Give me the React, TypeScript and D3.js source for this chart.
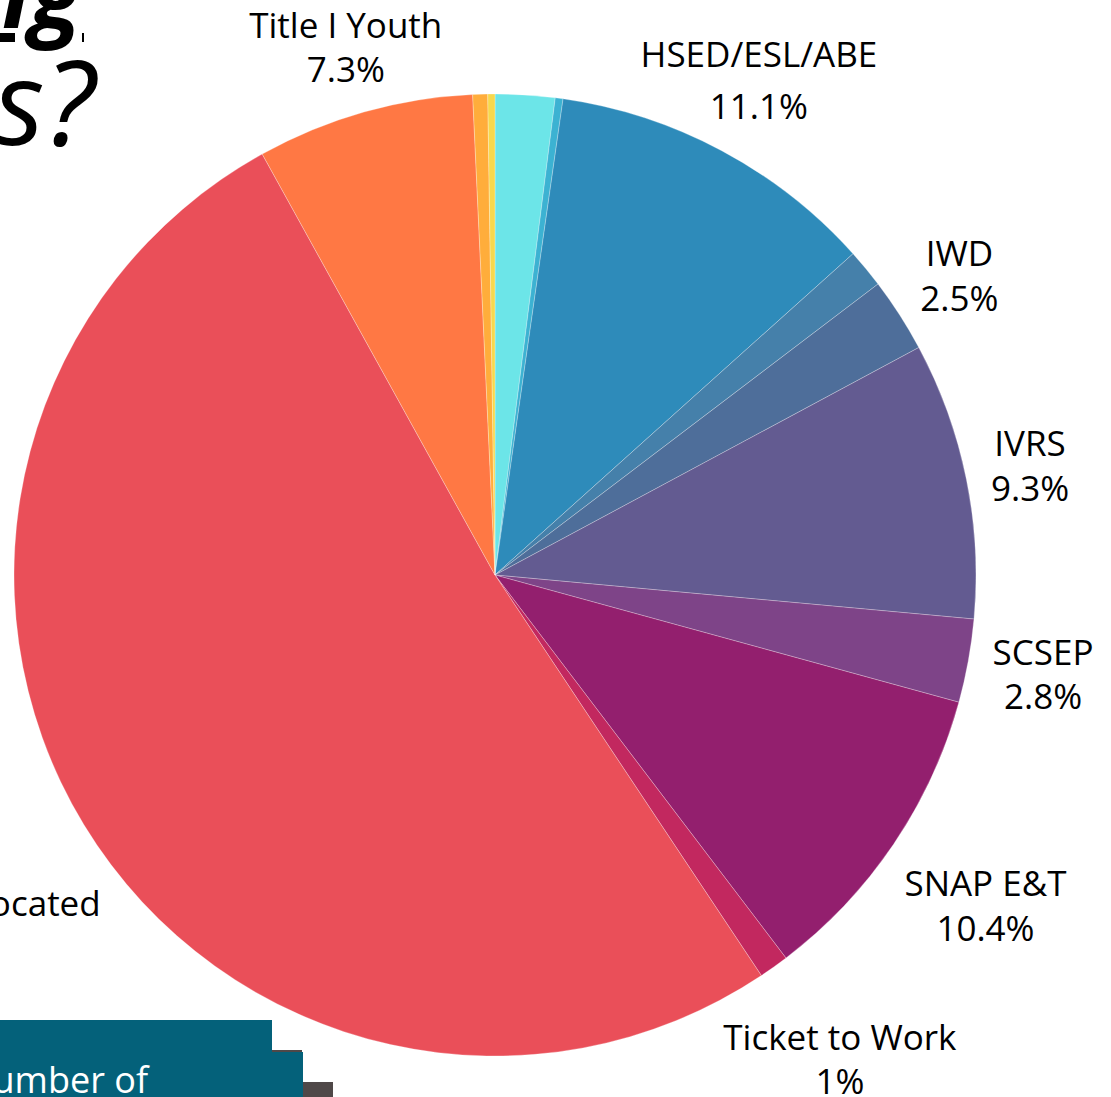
import React from "react";
import * as d3 from "d3";

const programs = [
  "Jobs for Veterans",
  "Trade Adjustment",
  "HSED/ESL/ABE",
  "RESEA",
  "IWD",
  "IVRS",
  "SCSEP",
  "SNAP E&T",
  "Ticket to Work",
  "Title I Adult/Dislocated",
  "Title I Youth",
  "Apprenticeship",
  "Job Corps",
];
const shares = [2.0, 0.26, 11.1, 1.3, 2.5, 9.3, 2.8, 10.4, 1.0, 51.3, 7.3, 0.5, 0.24];
const shareLabels = ["", "", "11.1%", "", "2.5%", "9.3%", "2.8%", "10.4%", "1%", "51.3%", "7.3%", "", ""];
const showLabel = [false, false, true, false, true, true, true, true, true, true, true, false, false];
const colors = [
  "#6ce5e8", "#3cb2d2", "#2e8bba", "#4580aa", "#4e6e9a", "#635b91", "#7e4488",
  "#931f6e", "#c2285f", "#ea4f59", "#ff7844", "#ffad3b", "#f6d84e",
];
// layout: distance of each label block centre from pie centre, and line spacing
const labelDistance = [0, 0, 560, 0, 552, 546, 557, 592, 595, 676, 548, 0, 0];
const labelLineGap = [45, 45, 52, 45, 45, 45, 44, 45, 44, 45, 44, 45, 45];

const W = 1111;
const H = 1097;
const CX = 495;
const CY = 575;
const R = 481;
const FONT = "'Open Sans', 'Noto Sans', sans-serif";

export default function App() {
  const data = programs.map((p, i) => ({ name: p, value: shares[i], i }));
  const pie = d3.pie<any>().sort(null).value((d) => d.value).startAngle(0).endAngle(2 * Math.PI);
  const arcs = pie(data);
  const arc = d3.arc<any>().innerRadius(0).outerRadius(R);

  return (
    <svg
      width={W}
      height={H}
      viewBox={`0 0 ${W} ${H}`}
      style={{ position: "absolute", left: 0, top: 0, background: "#fff" }}
    >
      {/* partial title text at top-left */}
      <text x={82} y={28} textAnchor="end" fontFamily={FONT} fontSize={96} fontWeight={700} fontStyle="italic" fill="#000">
        ng
      </text>
      <rect x={0} y={33} width={15} height={9} fill="#000" />
      <rect x={82} y={33} width={2} height={9} fill="#000" />
      <text x={95} y={145} textAnchor="end" fontFamily={FONT} fontSize={118} fontStyle="italic" fill="#000">
        s?
      </text>

      <g transform={`translate(${CX},${CY})`}>
        {arcs.map((a, k) => (
          <path key={k} d={arc(a) as string} fill={colors[a.data.i]} stroke="#ffffff" strokeOpacity={0.45} strokeWidth={0.6} />
        ))}
        {arcs.map((a, k) => {
          const i = a.data.i;
          if (!showLabel[i]) return null;
          const mid = (a.startAngle + a.endAngle) / 2;
          const d = labelDistance[i];
          const x = Math.sin(mid) * d;
          const y = -Math.cos(mid) * d;
          const lh = labelLineGap[i];
          return (
            <text key={"l" + k} x={x} y={y} textAnchor="middle" fontFamily={FONT} fontSize={35} fill="#000">
              <tspan x={x} dy={-lh / 2 + 12}>{programs[i]}</tspan>
              <tspan x={x} dy={lh}>{shareLabels[i]}</tspan>
            </text>
          );
        })}
      </g>

      {/* bottom-left boxes */}
      <rect x={30} y={1050} width={272} height={80} fill="#4f4848" />
      <rect x={0} y={1020} width={272} height={80} fill="#04617a" />
      <rect x={30} y={1082} width={303} height={40} fill="#4f4848" />
      <rect x={0} y={1052} width={303} height={60} fill="#04617a" />
      <text x={148} y={1093} textAnchor="end" fontFamily={FONT} fontSize={36} fill="#ffffff">
        Number of
      </text>
    </svg>
  );
}
